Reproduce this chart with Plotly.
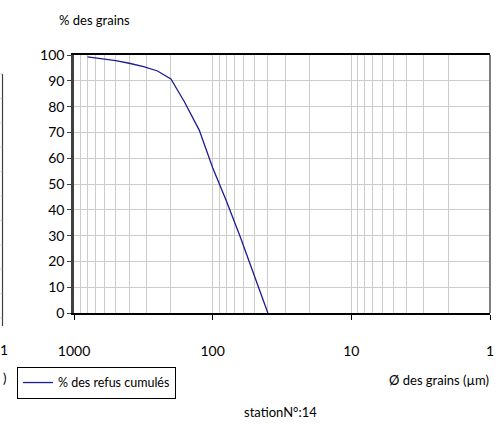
import plotly.graph_objects as go

# Data (sieve sizes in µm, cumulative retained %)
diam = [800, 630, 500, 400, 315, 250, 200, 160, 125, 100, 80, 63, 50, 40]
refus = [99.3, 98.6, 97.8, 96.8, 95.5, 93.8, 90.7, 81.9, 70.9, 56.3, 43.7, 29.3, 14.3, 0.0]
series_name = "% des refus cumulés"
x_ticks = [1000, 100, 10, 1]
x_ticktext = ["1000", "100", "10", "1"]

FONT = "Lato, Liberation Sans, sans-serif"

minor_vals = [m * 10 ** e for e in range(0, 3) for m in range(2, 10)]

fig = go.Figure()
fig.add_trace(go.Scatter(
    x=diam, y=refus, mode="lines", name=series_name,
    line=dict(color="#1c1c96", width=1.3),
))

fig.update_layout(
    width=497, height=425,
    margin=dict(l=74, r=7, t=55, b=112, autoexpand=False),
    paper_bgcolor="white", plot_bgcolor="white",
    font=dict(family=FONT, size=14, color="#000000"),
    showlegend=True,
    legend=dict(
        x=-0.137, y=-0.209, xanchor="left", yanchor="top",
        bordercolor="#000000", borderwidth=1,
        font=dict(family=FONT, size=12.5, color="#000000"),
        itemwidth=30, tracegroupgap=0,
    ),
    xaxis=dict(
        type="log", range=[3, 0],
        tickmode="array", tickvals=x_ticks, ticktext=x_ticktext,
        ticks="outside", ticklen=5, tickcolor="#000000", tickwidth=1,
        ticklabelstandoff=19,
        showgrid=True, gridcolor="#cccccc", gridwidth=1,
        minor=dict(tickmode="array", tickvals=minor_vals, showgrid=True,
                   gridcolor="#cccccc", gridwidth=1, ticks=""),
        showline=True, linecolor="#000000", linewidth=1.5, mirror=True,
        zeroline=False,
        tickfont=dict(family=FONT, size=14),
    ),
    yaxis=dict(
        range=[0, 100], dtick=10, tick0=0,
        ticks="outside", ticklen=4, tickcolor="#404040", tickwidth=1,
        showgrid=True, gridcolor="#cccccc", gridwidth=1,
        showline=True, linecolor="#404040", linewidth=2.5,
        zeroline=False,
        tickfont=dict(family=FONT, size=14),
    ),
)

# right border of plot area
fig.add_shape(type="line", xref="paper", yref="paper", x0=1, x1=1, y0=0, y1=1,
              line=dict(color="#7f7f7f", width=2))

# remnant of neighbouring chart on the left edge
lx = (2.5 - 74) / 416
fig.add_shape(type="line", xref="paper", yref="paper", x0=lx, x1=lx,
              y0=(313 - 326) / 258, y1=(313 - 74) / 258,
              line=dict(color="#404040", width=1.2))
for k in range(11):
    py = 74 + k * 24.4
    yy = (313 - py) / 258
    fig.add_shape(type="line", xref="paper", yref="paper",
                  x0=(0.5 - 74) / 416, x1=lx, y0=yy, y1=yy,
                  line=dict(color="#b0b0b0", width=0.8))

annotations = [
    dict(text="% des grains", x=(94 - 74) / 416, y=(313 - 20) / 258,
         xanchor="center", yanchor="middle", font=dict(size=13)),
    dict(text="Ø des grains (µm)", x=(491 - 74) / 416, y=(313 - 380) / 258,
         xanchor="right", yanchor="middle", font=dict(size=13)),
    dict(text="stationN°:14", x=(280 - 74) / 416, y=(313 - 412) / 258,
         xanchor="center", yanchor="middle", font=dict(size=13)),
    dict(text="1", x=(4 - 74) / 416, y=(313 - 349) / 258,
         xanchor="center", yanchor="middle", font=dict(size=14)),
    dict(text=")", x=(4 - 74) / 416, y=(313 - 378) / 258,
         xanchor="center", yanchor="middle", font=dict(size=13)),
]
for a in annotations:
    fig.add_annotation(xref="paper", yref="paper", showarrow=False, **a)

fig.write_html("out.html", config={"displayModeBar": False},
               post_script="document.body.style.margin='0px';")
